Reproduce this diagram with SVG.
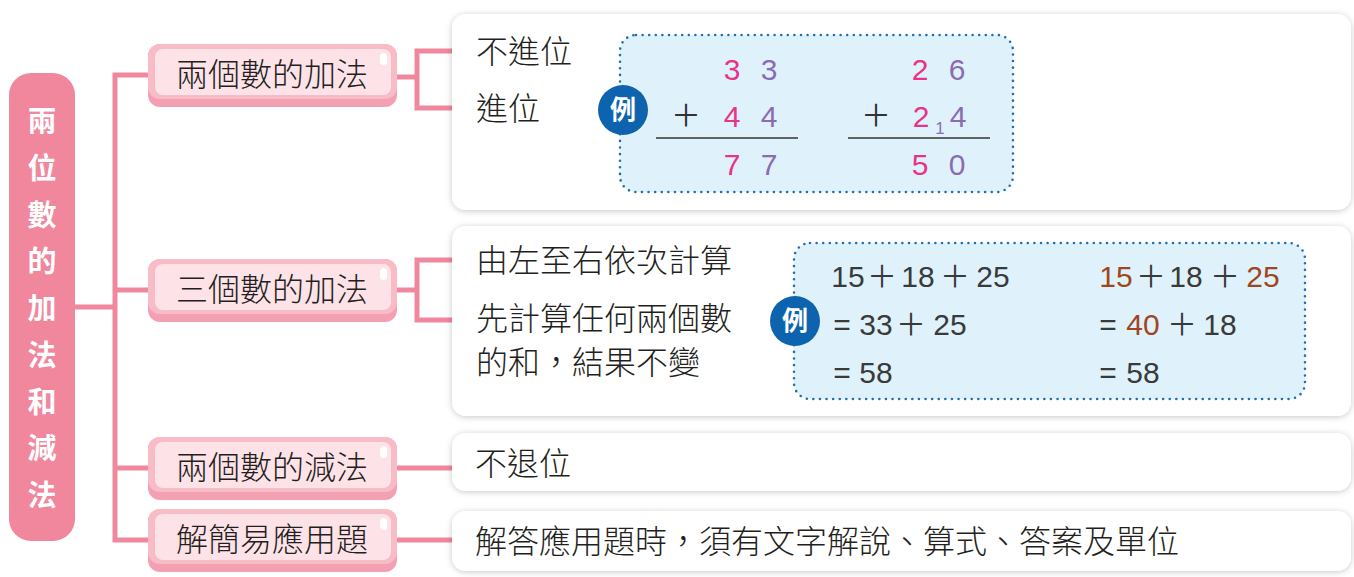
<svg xmlns="http://www.w3.org/2000/svg" width="1354" height="577" viewBox="0 0 1354 577">
<style>
.root{fill:#f0879c;}
.rootT{font-family:"Noto Sans CJK TC",sans-serif;font-size:29px;font-weight:bold;fill:#fff;text-anchor:middle;}
.conn{fill:none;stroke:#f0889d;stroke-width:5;}
.nOut{fill:#f3a1b2;}
.nBor{fill:#f8bcc7;}
.nIn{fill:#fde3e8;}
.nHi{fill:#fff;}
.nT{font-family:"Noto Sans CJK TC",sans-serif;font-size:32px;font-weight:300;fill:#231f20;text-anchor:middle;}
.box{fill:#fff;filter:url(#sh);}
.ex{fill:#dff2fb;stroke:#1f6fb5;stroke-width:2.6;stroke-dasharray:0 6.6;stroke-linecap:round;}
.badge{fill:#0d63ad;}
.badgeT{font-family:"Noto Sans CJK TC",sans-serif;font-size:26px;font-weight:bold;fill:#fff;text-anchor:middle;}
.t{font-family:"Noto Sans CJK TC",sans-serif;font-size:32px;font-weight:300;fill:#231f20;}
.n{font-family:"Liberation Sans","Noto Sans CJK TC",sans-serif;font-size:30px;fill:#3a3a3a;text-anchor:middle;}
.d{font-family:"Liberation Sans","Noto Sans CJK TC",sans-serif;font-size:30px;text-anchor:middle;}
.pl{font-family:"Noto Sans CJK TC",sans-serif;}
.pk{fill:#e8338a;}
.pu{fill:#8c6bb3;}
.dk{fill:#333;}
.br{fill:#a0461e;}
.rule{stroke:#333;stroke-width:1.6;}
</style>
<defs>
<filter id="sh" x="-5%" y="-20%" width="110%" height="140%">
<feDropShadow dx="0" dy="1" stdDeviation="3" flood-color="#000" flood-opacity="0.22"/>
</filter>
</defs>
<rect width="1354" height="577" fill="#fff"/>

<g id="connectors">
<path class="conn" d="M75,307 H115"/>
<path class="conn" d="M150,75 H115 V540 H150"/>
<path class="conn" d="M115,290 H150"/>
<path class="conn" d="M115,468 H150"/>
<path class="conn" d="M396,77 H417"/>
<path class="conn" d="M454,51 H417 V108 H454"/>
<path class="conn" d="M396,290 H417"/>
<path class="conn" d="M454,260 H417 V320 H454"/>
<path class="conn" d="M396,468 H454"/>
<path class="conn" d="M396,540 H454"/>
</g>

<g id="root">
<rect class="root" x="9" y="73" width="66" height="468" rx="22"/>
<text class="rootT" x="42" y="132">兩</text>
<text class="rootT" x="42" y="179">位</text>
<text class="rootT" x="42" y="226">數</text>
<text class="rootT" x="42" y="272">的</text>
<text class="rootT" x="42" y="319">加</text>
<text class="rootT" x="42" y="366">法</text>
<text class="rootT" x="42" y="413">和</text>
<text class="rootT" x="42" y="459">減</text>
<text class="rootT" x="42" y="506">法</text>
</g>

<g id="node1">
<rect class="nOut" x="148" y="44" width="249" height="63" rx="12"/>
<rect class="nBor" x="148" y="44" width="249" height="55" rx="12"/>
<rect class="nIn" x="155" y="49" width="236" height="46" rx="8"/>
<rect class="nHi" x="380" y="53" width="7" height="12" rx="3.5"/>
<text class="nT" x="272" y="86">兩個數的加法</text>
</g>
<g id="node2">
<rect class="nOut" x="148" y="259" width="249" height="63" rx="12"/>
<rect class="nBor" x="148" y="259" width="249" height="55" rx="12"/>
<rect class="nIn" x="155" y="264" width="236" height="46" rx="8"/>
<rect class="nHi" x="380" y="268" width="7" height="12" rx="3.5"/>
<text class="nT" x="272" y="301">三個數的加法</text>
</g>
<g id="node3">
<rect class="nOut" x="148" y="437" width="249" height="63" rx="12"/>
<rect class="nBor" x="148" y="437" width="249" height="55" rx="12"/>
<rect class="nIn" x="155" y="442" width="236" height="46" rx="8"/>
<rect class="nHi" x="380" y="446" width="7" height="12" rx="3.5"/>
<text class="nT" x="272" y="479">兩個數的減法</text>
</g>
<g id="node4">
<rect class="nOut" x="148" y="509" width="249" height="63" rx="12"/>
<rect class="nBor" x="148" y="509" width="249" height="55" rx="12"/>
<rect class="nIn" x="155" y="514" width="236" height="46" rx="8"/>
<rect class="nHi" x="380" y="518" width="7" height="12" rx="3.5"/>
<text class="nT" x="272" y="551">解簡易應用題</text>
</g>

<g id="box1">
<rect class="box" x="452" y="14" width="899" height="196" rx="14"/>
<text class="t" x="476" y="63">不進位</text>
<text class="t" x="476" y="120">進位</text>
<rect class="ex" x="620" y="35" width="393" height="157" rx="16"/>
<circle class="badge" cx="623" cy="110" r="25"/>
<text class="badgeT" x="623" y="119">例</text>
<text class="d pk" x="732" y="80">3</text>
<text class="d pu" x="769" y="80">3</text>
<text class="d dk pl" x="686" y="126">＋</text>
<text class="d pk" x="732" y="127">4</text>
<text class="d pu" x="769" y="127">4</text>
<line class="rule" x1="656" y1="138" x2="798" y2="138"/>
<text class="d pk" x="732" y="175">7</text>
<text class="d pu" x="769" y="175">7</text>
<text class="d pk" x="920" y="80">2</text>
<text class="d pu" x="957" y="80">6</text>
<text class="d dk pl" x="876" y="126">＋</text>
<text class="d pk" x="921" y="127">2</text>
<text class="d pu" x="940" y="134" style="font-size:17px">1</text>
<text class="d pu" x="958" y="127">4</text>
<line class="rule" x1="848" y1="138" x2="990" y2="138"/>
<text class="d pk" x="920" y="175">5</text>
<text class="d pu" x="957" y="175">0</text>
</g>

<g id="box2">
<rect class="box" x="452" y="226" width="899" height="190" rx="14"/>
<text class="t" x="476" y="272">由左至右依次計算</text>
<text class="t" x="476" y="330">先計算任何兩個數</text>
<text class="t" x="476" y="374">的和，結果不變</text>
<rect class="ex" x="794" y="243" width="511" height="156" rx="16"/>
<circle class="badge" cx="795" cy="321" r="25"/>
<text class="badgeT" x="795" y="330">例</text>
<text class="n" y="287"><tspan x="848">15</tspan><tspan class="pl" x="882">＋</tspan><tspan x="918">18</tspan><tspan class="pl" x="955">＋</tspan><tspan x="993">25</tspan></text>
<text class="n" y="335"><tspan x="842">=</tspan><tspan x="876">33</tspan><tspan class="pl" x="911">＋</tspan><tspan x="950">25</tspan></text>
<text class="n" y="383"><tspan x="842">=</tspan><tspan x="876">58</tspan></text>
<text class="n" y="287"><tspan class="br" x="1116">15</tspan><tspan class="pl" x="1151">＋</tspan><tspan x="1186">18</tspan><tspan class="pl" x="1225">＋</tspan><tspan class="br" x="1263">25</tspan></text>
<text class="n" y="335"><tspan x="1108">=</tspan><tspan class="br" x="1143">40</tspan><tspan class="pl" x="1182">＋</tspan><tspan x="1220">18</tspan></text>
<text class="n" y="383"><tspan x="1108">=</tspan><tspan x="1143">58</tspan></text>
</g>

<g id="box3">
<rect class="box" x="452" y="433" width="899" height="58" rx="14"/>
<text class="t" x="475" y="475">不退位</text>
</g>

<g id="box4">
<rect class="box" x="452" y="511" width="899" height="60" rx="14"/>
<text class="t" x="475" y="553">解答應用題時，須有文字解說、算式、答案及單位</text>
</g>
</svg>
